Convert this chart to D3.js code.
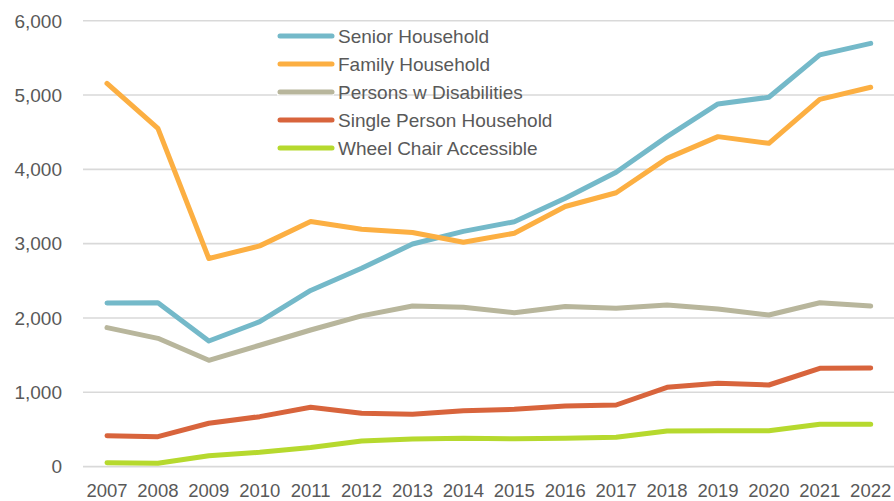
<!DOCTYPE html>
<html><head><meta charset="utf-8">
<script src="https://cdn.jsdelivr.net/npm/d3@7"></script>
<style>html,body{margin:0;padding:0;background:#fff;}svg{display:block;}</style>
</head><body>
<svg id="chart" width="894" height="501"></svg>
<script>
const years = ["2007","2008","2009","2010","2011","2012","2013","2014","2015","2016","2017","2018","2019","2020","2021","2022"];
const seriesNames = ["Senior Household","Family Household","Persons w Disabilities","Single Person Household","Wheel Chair Accessible"];
const senior = [2200,2205,1690,1950,2370,2668,2995,3165,3295,3610,3960,4440,4880,4970,5540,5695];
const family = [5157,4552,2800,2970,3297,3195,3150,3018,3140,3500,3685,4148,4440,4350,4942,5104];
const disabilities = [1870,1726,1430,1633,1838,2028,2161,2145,2070,2155,2130,2175,2120,2040,2205,2160];
const single = [416,403,583,672,798,717,703,752,771,815,829,1067,1120,1098,1322,1327];
const wheelchair = [53,44,147,192,256,344,371,382,374,382,396,479,483,483,569,569];
const yTicks = [0,1000,2000,3000,4000,5000,6000];
const colors = ["#74B9C9","#FCAF42","#B8B69C","#D8643C","#B6D92E"];

const allSeries = [senior, family, disabilities, single, wheelchair];
const svg = d3.select("#chart");
const font = "'Liberation Sans', Arial, sans-serif";

const x = d3.scalePoint().domain(years).range([107, 870.7]);
const y = d3.scaleLinear().domain([0, 6000]).range([466.6, 20.7]);

// gridlines
svg.append("g").selectAll("line").data(yTicks).join("line")
  .attr("x1", 83).attr("x2", 894)
  .attr("y1", d => y(d)).attr("y2", d => y(d))
  .attr("stroke", "#d9d9d9").attr("stroke-width", 1.6);

// y labels
svg.append("g").selectAll("text").data(yTicks).join("text")
  .attr("x", 62).attr("y", d => y(d) + 6.8)
  .attr("text-anchor", "end")
  .attr("font-family", font).attr("font-size", 19).attr("fill", "#595959")
  .text(d => d3.format(",")(d));

// x labels
svg.append("g").selectAll("text").data(years).join("text")
  .attr("x", d => x(d)).attr("y", 497)
  .attr("text-anchor", "middle")
  .attr("font-family", font).attr("font-size", 18.5).attr("fill", "#595959")
  .text(d => d);

// lines
const line = d3.line().x((d, i) => x(years[i])).y(d => y(d));
svg.append("g").selectAll("path").data(allSeries).join("path")
  .attr("d", d => line(d))
  .attr("fill", "none")
  .attr("stroke", (d, i) => colors[i])
  .attr("stroke-width", 5)
  .attr("stroke-linejoin", "round")
  .attr("stroke-linecap", "round");

// legend
const leg = svg.append("g").selectAll("g").data(seriesNames).join("g")
  .attr("transform", (d, i) => `translate(0,${36 + i * 28})`);
leg.append("rect").attr("x", 277).attr("y", -3.5).attr("width", 57).attr("height", 7)
  .attr("fill", "#fff");
leg.append("line").attr("x1", 280).attr("x2", 332).attr("y1", 0).attr("y2", 0)
  .attr("stroke", (d, i) => colors[i]).attr("stroke-width", 5).attr("stroke-linecap", "round");
leg.append("text").attr("x", 338).attr("y", 7)
  .attr("font-family", font).attr("font-size", 19).attr("fill", "#595959")
  .text(d => d);
</script>
</body></html>
